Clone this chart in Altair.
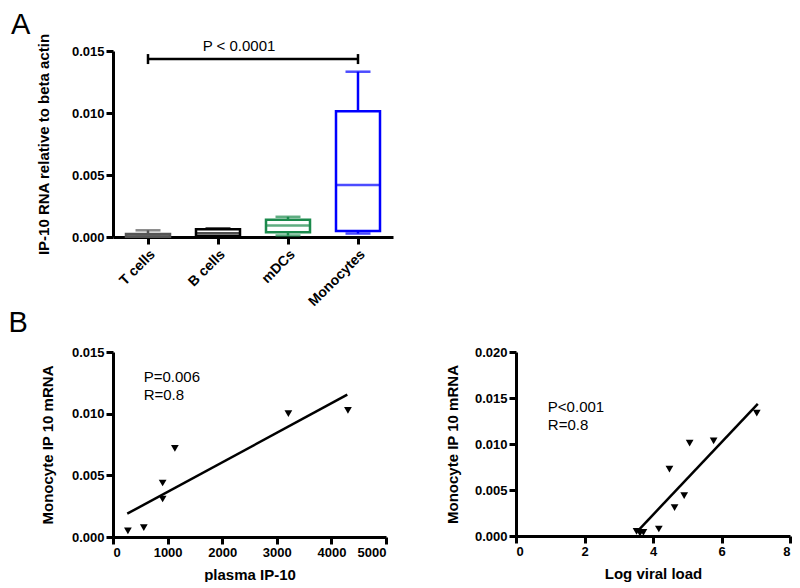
import altair as alt
import pandas as pd

FONT = "Liberation Sans"

# ---------------- Panel A data (box summaries) ----------------
cats = ["T cells", "B cells", "mDCs", "Monocytes"]
box_colors = ["#555555", "#000000", "#1b8a4c", "#0000ff"]
box_min = [0.00002, 0.00005, 0.00012, 0.00028]
box_q1 = [0.00003, 0.00008, 0.00038, 0.00048]
box_med = [0.00012, 0.00030, 0.00092, 0.00420]
box_q3 = [0.00024, 0.00062, 0.00140, 0.01015]
box_max = [0.00054, 0.00070, 0.00163, 0.01333]

sig_from = "T cells"
sig_to = "Monocytes"
sig_y = 0.01435
sig_label = "P < 0.0001"
sig_label_y = 0.0154

# ---------------- Panel B data ----------------
plasma_x = [273, 564, 909, 909, 1133, 3212, 4303]
plasma_y = [0.00049, 0.00076, 0.00438, 0.00308, 0.00719, 0.01000, 0.01027]
plasma_fit_x = [261, 4291]
plasma_fit_y = [0.00189, 0.01154]
plasma_ann = ["P=0.006", "R=0.8"]
plasma_ann_x = [562, 562]
plasma_ann_y = [0.01297, 0.01151]

vl_x = [3.52, 3.62, 3.72, 4.17, 4.48, 4.63, 4.91, 5.07, 5.77, 7.03]
vl_y = [0.00050, 0.00030, 0.00040, 0.00076, 0.00726, 0.00309, 0.00439, 0.01010, 0.01035, 0.01336]
vl_fit_x = [3.58, 7.06]
vl_fit_y = [0.00065, 0.01437]
vl_ann = ["P<0.001", "R=0.8"]
vl_ann_x = [0.93, 0.93]
vl_ann_y = [0.01399, 0.01207]

# ---------------- Panel A ----------------
box_df = pd.DataFrame({"cat": cats, "mn": box_min, "q1": box_q1, "med": box_med,
                       "q3": box_q3, "mx": box_max})
ytitle_a = "IP-10 RNA relative to beta actin"
xA = alt.X("cat:N", scale=alt.Scale(domain=cats, paddingInner=0, paddingOuter=0),
           axis=alt.Axis(title=None, labelAngle=-45, labelFontSize=14, labelPadding=3))
colA = alt.Color("cat:N", scale=alt.Scale(domain=cats, range=box_colors), legend=None)
strA = alt.Stroke("cat:N", scale=alt.Scale(domain=cats, range=box_colors), legend=None)
yscaleA = alt.Scale(domain=[0, 0.015], nice=False)
yaxisA = alt.Axis(values=[0, 0.005, 0.010, 0.015], format=".3f", titlePadding=20)

def yA(field):
    return alt.Y(field, type="quantitative", scale=yscaleA, axis=yaxisA, title=ytitle_a)

baseA = alt.Chart(box_df).encode(x=xA)
whisk = baseA.mark_rule(strokeWidth=2.5).encode(y=yA("mn"), y2="mx", color=colA)
box = baseA.mark_bar(size=44, fill="white", strokeWidth=2.5).encode(y=yA("q1"), y2="q3", stroke=strA)
med = baseA.mark_tick(size=46, thickness=2.5).encode(y=yA("med"), color=colA)
capmx = baseA.mark_tick(size=25, thickness=2.5).encode(y=yA("mx"), color=colA)
capmn = baseA.mark_tick(size=25, thickness=2.5).encode(y=yA("mn"), color=colA)

sig_df = pd.DataFrame({"a": [sig_from], "b": [sig_to], "y": [sig_y]})
sig = alt.Chart(sig_df).mark_rule(strokeWidth=2.5, color="black").encode(
    x=alt.X("a:N", scale=alt.Scale(domain=cats)), x2="b", y=yA("y"))
sig_end_df = pd.DataFrame({"cat": [sig_from, sig_to], "y": [sig_y, sig_y]})
sig_ends = alt.Chart(sig_end_df).mark_rule(strokeWidth=2.5, color="black", yOffset=-5, y2Offset=5).encode(
    x=alt.X("cat:N", scale=alt.Scale(domain=cats)), y=yA("y"), y2="y")
sig_txt_df = pd.DataFrame({"t": [sig_label], "y": [sig_label_y]})
sig_txt = alt.Chart(sig_txt_df).mark_text(fontSize=15, font=FONT, color="black", align="center",
                                          baseline="middle").encode(
    x=alt.value(126), y=yA("y"), text="t:N")

panelA = alt.layer(whisk, box, med, capmx, capmn, sig, sig_ends, sig_txt).properties(
    width=280, height=186,
    title=alt.TitleParams("A", anchor="start", frame="group", fontSize=29, fontWeight="normal",
                          font=FONT, dx=-102, offset=-7))

# ---------------- Panel B ----------------
ytitle_b = "Monocyte IP 10 mRNA"

def scatter(xs, ys, fx, fy, ann, ax, ay, xdom, xvals, ydom, yvals, xtitle, w, h, tpad):
    pts_df = pd.DataFrame({"x": xs, "y": ys})
    fit_df = pd.DataFrame({"x": fx, "y": fy})
    ann_df = pd.DataFrame({"x": ax, "y": ay, "t": ann})
    xs_ = alt.Scale(domain=xdom, nice=False)
    ys_ = alt.Scale(domain=ydom, nice=False)
    xa = alt.Axis(values=xvals, format="d", title=xtitle)
    ya = alt.Axis(values=yvals, format=".3f", title=ytitle_b, titlePadding=tpad)
    X = alt.X("x:Q", scale=xs_, axis=xa, title=xtitle)
    Y = alt.Y("y:Q", scale=ys_, axis=ya, title=ytitle_b)
    fit = alt.Chart(fit_df).mark_line(color="black", strokeWidth=2.5).encode(x=X, y=Y)
    pts = alt.Chart(pts_df).mark_point(shape="triangle-down", filled=True, size=60,
                                       color="black", opacity=1).encode(x=X, y=Y)
    txt = alt.Chart(ann_df).mark_text(align="left", baseline="middle", fontSize=15,
                                      font=FONT, color="black").encode(x=X, y=Y, text="t:N")
    return alt.layer(fit, pts, txt).properties(width=w, height=h)

panelB1 = scatter(plasma_x, plasma_y, plasma_fit_x, plasma_fit_y, plasma_ann, plasma_ann_x,
                  plasma_ann_y, [0, 5000], [0, 1000, 2000, 3000, 4000, 5000], [0, 0.015],
                  [0, 0.005, 0.010, 0.015], "plasma IP-10", 273, 185, 16)
panelB2 = scatter(vl_x, vl_y, vl_fit_x, vl_fit_y, vl_ann, vl_ann_x, vl_ann_y,
                  [0, 8], [0, 2, 4, 6, 8], [0, 0.02], [0, 0.005, 0.010, 0.015, 0.020],
                  "Log viral load", 274, 184, 14)

panelB = alt.hconcat(panelB1, panelB2, spacing=57).properties(
    title=alt.TitleParams("B", anchor="start", fontSize=29, fontWeight="normal", font=FONT,
                          dx=-32, offset=8))

chart = alt.vconcat(panelA, panelB, spacing=0).properties(
    padding={"left": 0, "top": 3, "right": 0, "bottom": 0}).configure_view(
    stroke=None).configure_axis(
    domainWidth=3, domainColor="black", tickWidth=3, tickColor="black", tickSize=7,
    labelFont=FONT, labelFontWeight="bold", labelFontSize=13, labelColor="black",
    titleFont=FONT, titleFontWeight="bold", titleFontSize=15, titleColor="black",
    grid=False, labelPadding=2, titlePadding=8)

chart.save("out.html", embed_options={"renderer": "svg", "actions": False})
